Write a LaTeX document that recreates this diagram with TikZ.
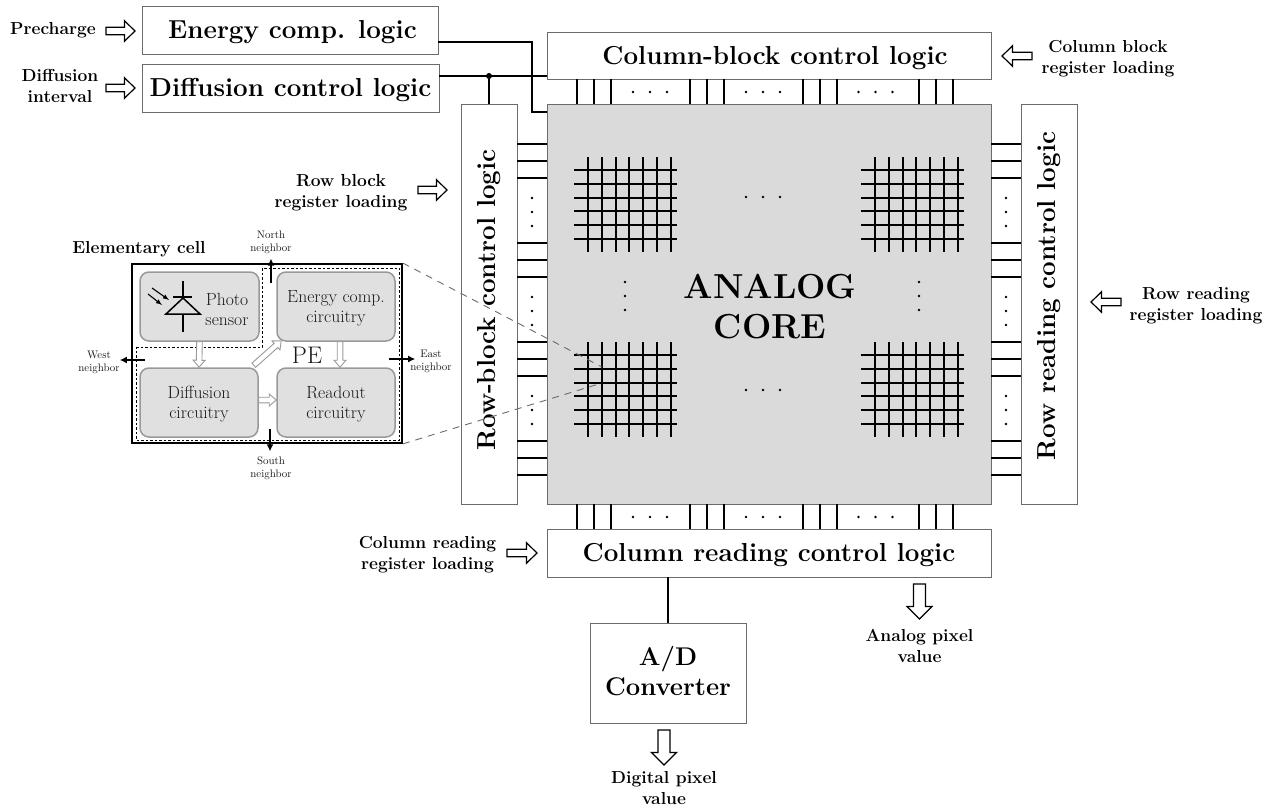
\documentclass[tikz,border=0pt]{standalone}
\usetikzlibrary{calc,arrows.meta}
\definecolor{boxline}{gray}{0.42}
\definecolor{corefill}{gray}{0.855}
\definecolor{cellfill}{gray}{0.88}
\definecolor{cellline}{gray}{0.6}
\definecolor{celltext}{gray}{0.1}
\tikzset{
  x=1pt,y=-1pt,
  blockbox/.style={draw=boxline,line width=0.9pt,fill=white,rectangle,inner sep=0pt},
  big/.style={font=\fontsize{26}{34}\selectfont\bfseries},
  bigflat/.style={big,text height=22pt,text depth=5pt},
  lbl/.style={font=\fontsize{17.4}{21}\selectfont\bfseries,align=center,inner sep=0pt},
  tiny/.style={font=\fontsize{10.9}{13}\selectfont,align=center,inner sep=0pt,text=celltext},
  cellbox/.style={draw=cellline,line width=1.5pt,fill=cellfill,rounded corners=9pt,inner sep=0pt,
     minimum width=118pt,minimum height=69pt,align=center,text=celltext,
     font=\fontsize{17.6}{20}\selectfont},
  wire/.style={line width=2pt,black},
  neighbor/.style={line width=2pt,black,-{Latex[length=7pt,width=7pt]}},
  hollow/.style n args={3}{line width=1pt,fill=white,
    to path={let \p1=(\tikztostart),\p2=(\tikztotarget),
      \n1={atan2(\y2-\y1,\x2-\x1)},\n2={veclen(\x2-\x1,\y2-\y1)} in
      [shift={(\p1)},rotate=\n1]
      (0pt,#1pt) -- ({\n2-#3pt},#1pt) -- ({\n2-#3pt},#2pt) -- (\n2,0pt)
      -- ({\n2-#3pt},-#2pt) -- ({\n2-#3pt},-#1pt) -- (0pt,-#1pt) -- cycle}},
  bighollow/.style={hollow={3.8}{10.2}{10.5},draw=black,line width=1.2pt},
  downhollow/.style={hollow={6}{12.5}{12.5},draw=black,line width=1.2pt},
  smallhollow/.style={hollow={2.8}{6}{7},draw=cellline,line width=0.9pt},
  dotmark/.style={circle,fill=black,inner sep=0pt,minimum size=2.6pt},
}
\newcommand{\hdots}[2]{\foreach \dx in {-17,0,17} \fill (#1+\dx,#2) circle (1.4pt);}
\newcommand{\vdotsm}[2]{\foreach \dy in {-14,0,14} \fill (#1,#2+\dy) circle (1.4pt);}
\newcommand{\crossbar}[2]{%
  \foreach \dx in {14,28,42,55,69,83,97} \draw[wire] (#1+\dx,#2) -- (#1+\dx,#2+95);
  \foreach \dy in {13,27,41,54,68,82} \draw[wire] (#1,#2+\dy) -- (#1+103,#2+\dy);}
\newcommand{\fstrut}{\rule{0pt}{16.5pt}}
\begin{document}
\begin{tikzpicture}
\useasboundingbox (0,0) rectangle (1276,810);
% main blocks
\node[blockbox,minimum width=444pt,minimum height=400pt,fill=corefill] (core) at (769,304) {};
\node[font=\fontsize{34.7}{40}\selectfont\bfseries,align=center,inner sep=0pt] (coretext) at (770,307) {ANALOG\\CORE};
\node[blockbox,bigflat,minimum width=296pt,minimum height=48pt] (energy) at (290,30) {\hspace*{5pt}Energy comp. logic};
\node[blockbox,bigflat,minimum width=297pt,minimum height=48pt] (diffusion) at (290.5,88) {Diffusion control logic};
\node[blockbox,bigflat,text height=23pt,minimum width=444pt,minimum height=47pt] (colblock) at (769,55.5) {\hspace*{12pt}Column-block control logic};
\node[blockbox,bigflat,minimum width=444pt,minimum height=48pt] (colread) at (769,553) {Column reading control logic};
\node[blockbox,big,rotate=90,minimum width=400pt,minimum height=56pt] (rowblock) at (489,304) {\hspace*{8pt}Row-block control logic};
\node[blockbox,big,rotate=90,minimum width=400pt,minimum height=56pt] (rowread) at (1049,304) {\hspace*{16pt}Row reading control logic};
\node[blockbox,font=\fontsize{25.6}{30}\selectfont\bfseries,minimum width=156pt,minimum height=100pt,align=center] (adc) at (668,673) {A/D\\Converter\rule[-4pt]{0pt}{0pt}};
% control wires
\coordinate (corein) at (547,112);
\coordinate (colin) at (547,76);
\draw[wire] ([yshift=-12pt]energy.east) -| (532,112) -- (corein);
\draw[wire] ([yshift=12pt]diffusion.east) -- (colin);
\node[dotmark,minimum size=6pt] (junction) at (489,76) {};
\draw[wire] (junction) -- (rowblock.east);
\draw[wire] (colread.south -| adc.north) -- (adc.north);
% column ticks
\foreach \x in {577,593.5,611,690,706.5,724,803,819.5,836.5,919,936,952.5} {
  \draw[wire] (\x,79) -- (\x,104);
  \draw[wire] (\x,504) -- (\x,529);}
\foreach \x in {650,763,875.5} {\hdots{\x}{92}\hdots{\x}{517}}
% row ticks
\foreach \y in {144,161,178,243,260,277,342,359,376,441,458,475} {
  \draw[wire] (517,\y) -- (547,\y);
  \draw[wire] (991,\y) -- (1021,\y);}
\foreach \y in {212,311,410} {\vdotsm{532}{\y}\vdotsm{1006}{\y}}
% crossbars
\crossbar{574}{157}
\crossbar{861}{157}
\crossbar{574}{342}
\crossbar{861}{342}
\hdots{763}{197}
\hdots{763}{390}
\vdotsm{625}{296}
\vdotsm{919}{296}
% zoom lines
\node[draw=black,line width=1.8pt,minimum width=270pt,minimum height=179pt,inner sep=0pt] (cell) at (267,353.5) {};
\coordinate (zoomtop) at (602,367);
\coordinate (zoombot) at (602,383);
\draw[dashed,boxline,line width=0.9pt,dash pattern=on 7pt off 6pt] (cell.north east) -- (zoomtop);
\draw[dashed,boxline,line width=0.9pt,dash pattern=on 7pt off 6pt] (cell.south east) -- (zoombot);
% elementary cell
\draw[black,line width=0.9pt,dash pattern=on 2.5pt off 2pt] (136,347) -- (262,347) -- (262,268) -- (399,268) -- (399,440) -- (136,440) -- cycle;
\node[cellbox,minimum width=119pt] (photo) at (199.5,306.5) {};
\node[cellbox] (ecirc) at (336,306.5) {\fstrut Energy comp.\\circuitry};
\node[cellbox] (dcirc) at (199,402.5) {\fstrut Diffusion\\circuitry};
\node[cellbox] (rcirc) at (336,402.5) {\fstrut Readout\\circuitry};
\node[text=celltext,font=\fontsize{17.6}{20}\selectfont,align=center,inner sep=0pt] (phototext) at (227,309) {Photo\\sensor};
\node[font=\fontsize{24}{26}\selectfont,text=celltext,inner sep=0pt] (pe) at (307,355) {PE};
\node[lbl,anchor=center] (elem) at (139,249) {Elementary cell};
% photodiode
\coordinate (pdtop) at (183,281);
\coordinate (pdapex) at (183,298);
\coordinate (pdbase) at (183,314);
\coordinate (pdbot) at (183,332);
\draw[line width=1.5pt] (pdtop) -- (pdapex);
\draw[line width=1.5pt] (pdbase) -- (pdbot);
\draw[line width=1.5pt] (173,297) -- (192,297);
\draw[line width=1.5pt] (166,314) -- (pdapex) -- (200,314) -- cycle;
\draw[line width=1.1pt,-latex] (148,294) -- (162,305);
\draw[line width=1.1pt,-latex] (152,288) -- (169,300);
% inner arrows
\draw[smallhollow] (photo.south) to (dcirc.north);
\draw[smallhollow] ([xshift=4pt]ecirc.south) to ([xshift=4pt]rcirc.north);
\draw[smallhollow] ([yshift=2.5pt]dcirc.east) to ([yshift=2.5pt]rcirc.west);
\draw[smallhollow] ([xshift=-5pt,yshift=2pt]dcirc.north east) to ([xshift=5pt,yshift=1pt]ecirc.south west);
% neighbours
\node[tiny] (north) at (271,242) {North\\neighbor};
\node[tiny] (south) at (271,468) {South\\neighbor};
\node[tiny] (west) at (99,362) {West\\neighbor};
\node[tiny] (east) at (431,361.5) {East\\neighbor};
\coordinate (nstart) at (271,283);
\coordinate (sstart) at (270,429);
\coordinate (wstart) at (145,360);
\coordinate (estart) at (389,359);
\draw[neighbor,shorten >=5pt] (nstart) -- (north.south);
\draw[neighbor,shorten >=5pt] (sstart) -- (south.north -| sstart);
\draw[neighbor] (wstart) -- (west.east |- wstart);
\draw[neighbor,shorten >=-5pt] (estart) -- (east.west |- estart);
% external labels
\node[lbl] (lprech) at (53,30.5) {Precharge};
\node[lbl] (ldiff) at (60,86) {Diffusion\\interval};
\node[lbl] (lcolb) at (1108,58.5) {Column block\\register loading};
\node[lbl] (lrowb) at (341,193) {Row block\\register loading};
\node[lbl] (lrowr) at (1196,306) {Row reading\\register loading};
\node[lbl] (lcolr) at (427.5,554.5) {Column reading\\register loading};
\node[lbl] (lanalog) at (919.5,645.5) {Analog pixel\\value};
\node[lbl] (ldigital) at (664,788) {Digital pixel\\value};
% external arrows
\coordinate (a1) at (106,31); \coordinate (a2) at (135,31);
\coordinate (b1) at (106,88); \coordinate (b2) at (135,88);
\coordinate (c1) at (1032,56); \coordinate (c2) at (1002,56);
\coordinate (d1) at (418,190); \coordinate (d2) at (447,190);
\coordinate (e1) at (1121,302); \coordinate (e2) at (1091,302);
\coordinate (f1) at (507,553); \coordinate (f2) at (537,553);
\coordinate (g1) at (919.5,584); \coordinate (g2) at (919.5,619);
\coordinate (h1) at (664,730); \coordinate (h2) at (664,765);
\foreach \s/\t in {a1/a2,b1/b2,c1/c2,d1/d2,e1/e2,f1/f2}
  \draw[bighollow] (\s) to (\t);
\foreach \s/\t in {g1/g2,h1/h2}
  \draw[downhollow] (\s) to (\t);
\end{tikzpicture}
\end{document}
